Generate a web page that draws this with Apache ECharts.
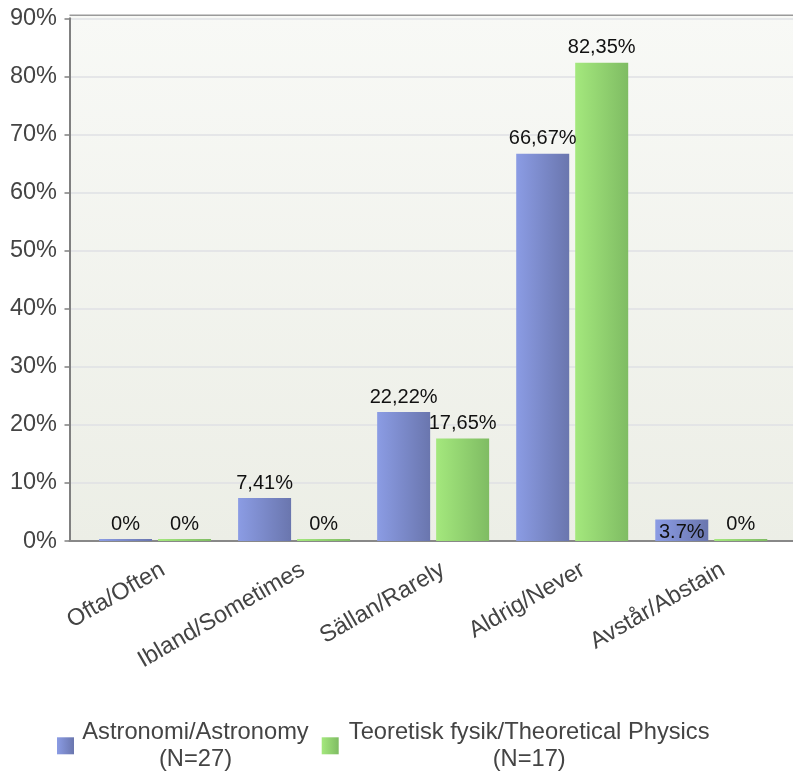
<!DOCTYPE html>
<html>
<head>
<meta charset="utf-8">
<script src="https://cdn.jsdelivr.net/npm/echarts@6/dist/echarts.min.js"></script>
<style>
html,body{margin:0;padding:0;background:#fff;}
#chart{width:793px;height:775px;}
</style>
</head>
<body>
<div id="chart"></div>
<script>
// ---- data ----
const categories = ['Ofta/Often', 'Ibland/Sometimes', 'Sällan/Rarely', 'Aldrig/Never', 'Avstår/Abstain'];
const seriesNames = ['Astronomi/Astronomy', 'Teoretisk fysik/Theoretical Physics'];
const seriesN = ['(N=27)', '(N=17)'];
const astronomyValues = [0, 7.41, 22.22, 66.67, 3.7];
const physicsValues = [0, 0, 17.65, 82.35, 0];
const astronomyLabels = ['0%', '7,41%', '22,22%', '66,67%', '3.7%'];
const physicsLabels = ['0%', '0%', '17,65%', '82,35%', '0%'];
const yTicks = [0, 10, 20, 30, 40, 50, 60, 70, 80, 90];

const FONT = '"Liberation Sans", Arial, sans-serif';
const chart = echarts.init(document.getElementById('chart'), null, {renderer: 'canvas'});

const grad = (a, b) => ({type: 'linear', x: 0, y: 0, x2: 1, y2: 0, colorStops: [{offset: 0, color: a}, {offset: 1, color: b}]});
const blueGrad = grad('#8b9ce4', '#6a76ae');
const greenGrad = grad('#a4e87d', '#7fbc63');

const TOP = 18.3, BOTTOM = 233.9;
const yMax = yTicks[yTicks.length - 1];
const yInterval = yTicks[1] - yTicks[0];

const option = {
  animation: false,
  backgroundColor: '#ffffff',
  textStyle: {fontFamily: FONT},
  grid: [
    {left: 69.5, right: 0, top: 15.3, bottom: BOTTOM, show: true, borderWidth: 0,
     backgroundColor: {type: 'linear', x: 0, y: 0, x2: 0, y2: 1, colorStops: [{offset: 0, color: '#f8f9f6'}, {offset: 1, color: '#eceee6'}]}},
    {left: 69.5, right: 0, top: TOP, bottom: BOTTOM},
    {left: 85.5, right: 12.2, top: TOP, bottom: BOTTOM},
    {left: 93, right: 0, top: TOP, bottom: BOTTOM}
  ],
  xAxis: [
    {gridIndex: 0, type: 'value', min: 0, max: 1, show: false},
    {gridIndex: 1, type: 'value', min: 0, max: 1,
     axisLine: {show: true, lineStyle: {color: '#888888', width: 2}},
     axisTick: {show: false}, axisLabel: {show: false}, splitLine: {show: false}},
    {gridIndex: 2, type: 'category', data: categories,
     axisLine: {show: false}, axisTick: {show: false}, axisLabel: {show: false}, splitLine: {show: false}},
    {gridIndex: 3, type: 'category', data: categories,
     axisLine: {show: false}, axisTick: {show: false}, splitLine: {show: false},
     axisLabel: {show: true, interval: 0, rotate: 30, margin: 27, fontSize: 23.5, color: '#444444', fontFamily: FONT}}
  ],
  yAxis: [
    {gridIndex: 0, type: 'value', min: 0, max: 1, show: false},
    {gridIndex: 1, type: 'value', min: 0, max: yMax, interval: yInterval,
     axisLine: {show: true, lineStyle: {color: '#808080', width: 2}},
     axisTick: {show: true, length: 5, lineStyle: {color: '#808080', width: 1.5}},
     axisLabel: {formatter: '{value}%', fontSize: 23.5, color: '#444444', margin: 12.5, fontFamily: FONT},
     splitLine: {show: true, lineStyle: {color: '#dfe1e5', width: 1.5}}},
    {gridIndex: 2, type: 'value', min: 0, max: yMax, interval: yInterval, show: false, splitLine: {show: false}},
    {gridIndex: 3, type: 'value', min: 0, max: 1, show: false, splitLine: {show: false}}
  ],
  legend: {
    left: 57, top: 720, padding: 0, itemWidth: 17, itemHeight: 17, itemGap: 12.7, icon: 'rect',
    data: seriesNames,
    formatter: function (name) {
      const i = seriesNames.indexOf(name);
      const k = i === 0 ? 'a' : 'b';
      return '{' + k + '|' + name + '}\n{' + k + '|' + seriesN[i] + '}';
    },
    textStyle: {
      padding: [0, 0, 0, 3],
      rich: {
        a: {width: 227, align: 'center', fontSize: 23.7, lineHeight: 27.6, color: '#444444', fontFamily: FONT},
        b: {width: 365, align: 'center', fontSize: 23.7, lineHeight: 27.6, color: '#444444', fontFamily: FONT}
      }
    }
  },
  graphic: [
    {type: 'line', shape: {x1: 69.5, y1: 15.3, x2: 793, y2: 15.3}, style: {stroke: '#9a9a9a', lineWidth: 1.5}, z: 5}
  ],
  series: [
    {
      name: seriesNames[0], type: 'bar', xAxisIndex: 2, yAxisIndex: 2,
      barWidth: 53, barGap: '11.3%', barMinHeight: 2,
      itemStyle: {color: blueGrad},
      label: {show: true, position: 'top', distance: 5, fontSize: 20, color: '#111111', fontFamily: FONT,
              formatter: p => astronomyLabels[p.dataIndex]},
      data: astronomyValues.map((v, i) => i === 4 ? {value: v, label: {position: 'insideBottom', distance: -1}} : v)
    },
    {
      name: seriesNames[1], type: 'bar', xAxisIndex: 2, yAxisIndex: 2,
      barWidth: 53, barGap: '11.3%', barMinHeight: 2,
      itemStyle: {color: greenGrad},
      label: {show: true, position: 'top', distance: 5, fontSize: 20, color: '#111111', fontFamily: FONT,
              formatter: p => physicsLabels[p.dataIndex]},
      data: physicsValues
    }
  ]
};
chart.setOption(option);
</script>
</body>
</html>
